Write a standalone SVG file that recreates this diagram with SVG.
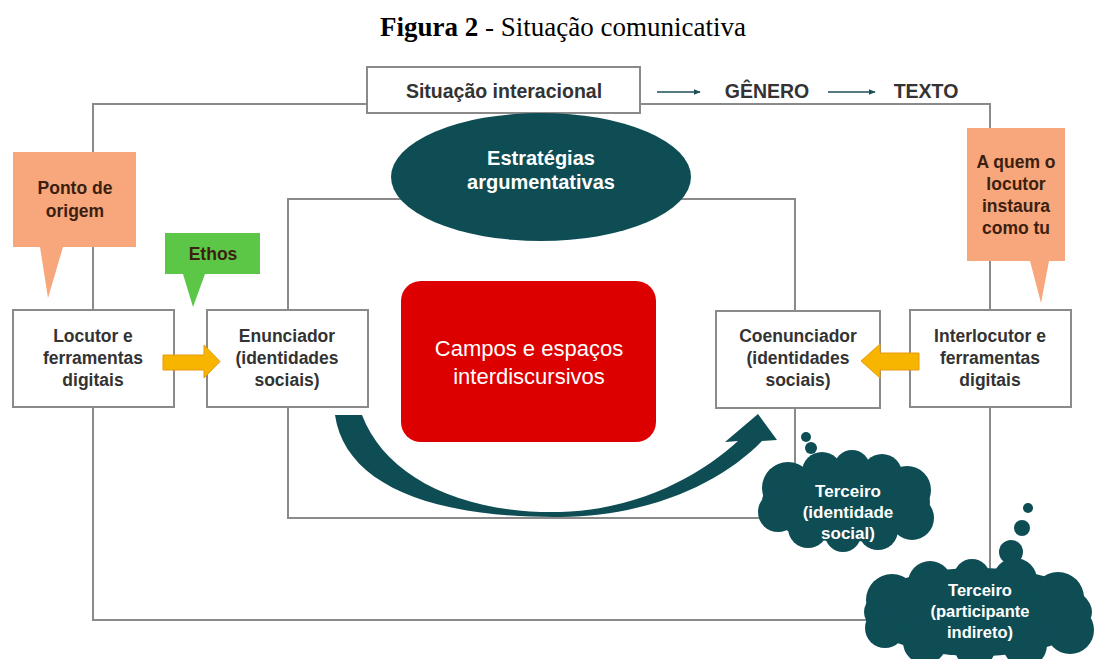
<svg xmlns="http://www.w3.org/2000/svg" width="1100" height="659" viewBox="0 0 1100 659">
<defs>
<style>
.frame{fill:none;stroke:#8a8a8a;stroke-width:2}
.box{fill:#fff;stroke:#8a8a8a;stroke-width:2}
.bt{font-family:"Liberation Sans",Arial,sans-serif;font-weight:bold;font-size:17.5px;fill:#333;text-anchor:middle}
.top{font-family:"Liberation Sans",Arial,sans-serif;font-weight:bold;font-size:19.5px;fill:#333;text-anchor:middle}
.ct{font-family:"Liberation Sans",Arial,sans-serif;font-weight:bold;font-size:17.5px;fill:#3b1f10;text-anchor:middle}
.wt{font-family:"Liberation Sans",Arial,sans-serif;font-weight:bold;font-size:17px;fill:#fff;text-anchor:middle}
.wt.big{font-size:20px}
.wt.sm{font-size:16.5px}
.teal{fill:#0e4d54}
.peach{fill:#f8a67c}
.yarrow{fill:#f7b500;stroke:#e89a10;stroke-width:1}
</style>
<marker id="ah" viewBox="0 0 10 10" refX="9" refY="5" markerWidth="7" markerHeight="7" orient="auto" markerUnits="userSpaceOnUse">
<path d="M0,1 L10,5 L0,9 Z" fill="#1e4e58"/>
</marker>
</defs>
<rect width="1100" height="659" fill="#fff"/>
<text x="563" y="36" text-anchor="middle" font-family="'Liberation Serif','Times New Roman',serif" font-size="27" fill="#000"><tspan font-weight="bold">Figura 2</tspan> - Situação comunicativa</text>

<g id="frames">
<rect class="frame" x="93" y="104" width="897" height="516"/>
<rect class="frame" x="288" y="199" width="507" height="319"/>
</g>

<g id="situacao">
<rect class="box" x="367" y="67" width="273" height="46"/>
<text class="top" x="504" y="98">Situação interacional</text>
</g>
<g id="genero"><text class="top" x="767" y="98">GÊNERO</text></g>
<g id="texto"><text class="top" x="926" y="98">TEXTO</text></g>

<g id="estrategias">
<ellipse class="teal" cx="541" cy="177" rx="150" ry="64"/>
<text class="wt big" x="541" y="165">Estratégias</text>
<text class="wt big" x="541" y="189">argumentativas</text>
</g>

<g id="ponto-origem">
<path class="peach" d="M13,152 H136 V247 H63 L48,298 L40,247 H13 Z"/>
<text class="ct" x="75" y="194">Ponto de</text>
<text class="ct" x="75" y="217">origem</text>
</g>

<g id="ethos">
<path fill="#5cc646" d="M165,233 H260 V274 H205 L193,307 L183,274 H165 Z"/>
<text class="ct" x="213" y="260">Ethos</text>
</g>

<g id="a-quem">
<path class="peach" d="M967,128 H1065 V261 H1049 L1041,303 L1030,261 H967 Z"/>
<text class="ct" x="1016" y="168">A quem o</text>
<text class="ct" x="1016" y="190">locutor</text>
<text class="ct" x="1016" y="212">instaura</text>
<text class="ct" x="1016" y="234">como tu</text>
</g>

<g id="locutor">
<rect class="box" x="13" y="310" width="161" height="97"/>
<text class="bt" x="93" y="342">Locutor e</text>
<text class="bt" x="93" y="364">ferramentas</text>
<text class="bt" x="93" y="386">digitais</text>
</g>

<g id="enunciador">
<rect class="box" x="207" y="310" width="161" height="97"/>
<text class="bt" x="287" y="342">Enunciador</text>
<text class="bt" x="287" y="364">(identidades</text>
<text class="bt" x="287" y="386">sociais)</text>
</g>

<g id="campos">
<rect x="401" y="281" width="255" height="161" rx="20" fill="#dd0000"/>
<text x="529" y="356" text-anchor="middle" font-family="'Liberation Sans',Arial,sans-serif" font-size="22" fill="#fff">Campos e espaços</text>
<text x="529" y="384" text-anchor="middle" font-family="'Liberation Sans',Arial,sans-serif" font-size="22" fill="#fff">interdiscursivos</text>
</g>

<g id="coenunciador">
<rect class="box" x="716" y="311" width="164" height="97"/>
<text class="bt" x="798" y="342">Coenunciador</text>
<text class="bt" x="798" y="364">(identidades</text>
<text class="bt" x="798" y="386">sociais)</text>
</g>

<g id="interlocutor">
<rect class="box" x="910" y="310" width="161" height="97"/>
<text class="bt" x="990" y="342">Interlocutor e</text>
<text class="bt" x="990" y="364">ferramentas</text>
<text class="bt" x="990" y="386">digitais</text>
</g>

<g id="connectors">
<line x1="657" y1="92" x2="700" y2="92" stroke="#1e4e58" stroke-width="1.3" marker-end="url(#ah)"/>
<line x1="828" y1="92" x2="875" y2="92" stroke="#1e4e58" stroke-width="1.3" marker-end="url(#ah)"/>
<path class="yarrow" d="M163,355 L204,355 L204,345 L220,361.5 L204,378 L204,370 L163,370 Z"/>
<path class="yarrow" d="M919,353 L880,353 L880,344 L861,361 L880,378 L880,370 L919,370 Z"/>
<path class="teal" d="M335,415 C345,484 430,518 560,517 C652,516 722,482 762,441 L777,440 L758,414 L725,442 L738,441 C702,474 640,510 560,512 C460,514 385,476 362,415 Z"/>
</g>

<g id="terceiro-social" class="teal">
<circle cx="806" cy="437" r="5"/>
<circle cx="811" cy="448" r="6"/>
<ellipse cx="846" cy="502" rx="84" ry="40"/>
<circle cx="788" cy="488" r="26"/>
<circle cx="822" cy="472" r="20"/>
<circle cx="852" cy="468" r="18"/>
<circle cx="882" cy="474" r="20"/>
<circle cx="907" cy="490" r="24"/>
<circle cx="912" cy="518" r="22"/>
<circle cx="878" cy="530" r="20"/>
<circle cx="843" cy="534" r="18"/>
<circle cx="808" cy="528" r="20"/>
<circle cx="778" cy="512" r="20"/>
<text class="wt" x="848" y="497">Terceiro</text>
<text class="wt" x="848" y="518">(identidade</text>
<text class="wt" x="848" y="539">social)</text>
</g>

<g id="terceiro-indireto" class="teal">
<circle cx="1028" cy="508" r="5"/>
<circle cx="1022" cy="528" r="8"/>
<circle cx="1011" cy="552" r="12"/>
<ellipse cx="978" cy="612" rx="114" ry="44"/>
<circle cx="892" cy="600" r="26"/>
<circle cx="930" cy="583" r="22"/>
<circle cx="972" cy="577" r="18"/>
<circle cx="1015" cy="580" r="22"/>
<circle cx="1058" cy="598" r="26"/>
<circle cx="1070" cy="630" r="24"/>
<circle cx="1025" cy="645" r="22"/>
<circle cx="975" cy="648" r="20"/>
<circle cx="925" cy="642" r="22"/>
<circle cx="885" cy="628" r="20"/>
<text class="wt sm" x="980" y="596">Terceiro</text>
<text class="wt sm" x="980" y="617">(participante</text>
<text class="wt sm" x="980" y="638">indireto)</text>
</g>
</svg>
